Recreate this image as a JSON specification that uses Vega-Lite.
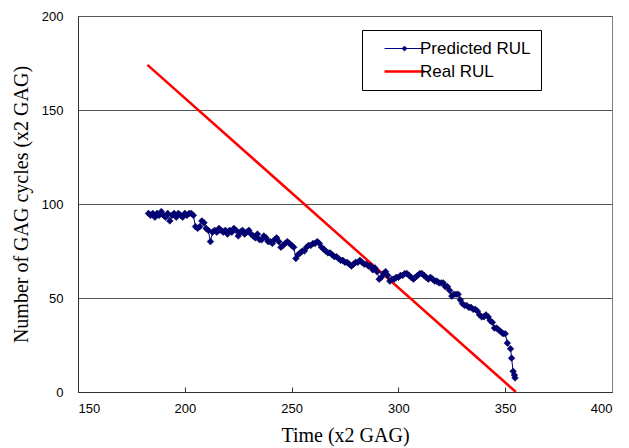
{
  "$schema": "https://vega.github.io/schema/vega-lite/v6.json",
  "autosize": {"type": "none"},
  "padding": {"left": 78, "top": 16, "right": 17, "bottom": 56},
  "width": 534,
  "height": 376,
  "background": "white",
  "config": {
    "view": {"stroke": "#808080", "strokeWidth": 1},
    "axis": {"labelFont": "Liberation Sans", "labelFontSize": 13, "labelColor": "black", "titleFont": "Liberation Serif", "titleFontSize": 20, "titleFontWeight": "normal", "titleColor": "black"}
  },
  "resolve": {"axis": {"x": "independent"}},
  "data": {"values": [
    {"t":182.5,"v":174,"s":"Real RUL"},{"t":355,"v":0,"s":"Real RUL"},
    {"t":183,"v":95,"s":"Predicted RUL"},{"t":184,"v":94,"s":"Predicted RUL"},{"t":185,"v":95,"s":"Predicted RUL"},{"t":186,"v":93,"s":"Predicted RUL"},{"t":187,"v":95,"s":"Predicted RUL"},{"t":188,"v":94,"s":"Predicted RUL"},{"t":189,"v":96,"s":"Predicted RUL"},{"t":190,"v":94,"s":"Predicted RUL"},{"t":191,"v":93,"s":"Predicted RUL"},{"t":192,"v":95,"s":"Predicted RUL"},{"t":193,"v":91,"s":"Predicted RUL"},{"t":194,"v":94,"s":"Predicted RUL"},{"t":195,"v":95,"s":"Predicted RUL"},{"t":196,"v":93,"s":"Predicted RUL"},{"t":197,"v":95,"s":"Predicted RUL"},{"t":198,"v":94,"s":"Predicted RUL"},{"t":199,"v":93,"s":"Predicted RUL"},{"t":200,"v":95,"s":"Predicted RUL"},{"t":201,"v":94,"s":"Predicted RUL"},{"t":202,"v":95,"s":"Predicted RUL"},{"t":203,"v":95,"s":"Predicted RUL"},{"t":204,"v":94,"s":"Predicted RUL"},{"t":205,"v":88,"s":"Predicted RUL"},{"t":206,"v":87,"s":"Predicted RUL"},{"t":207,"v":88,"s":"Predicted RUL"},{"t":208,"v":91,"s":"Predicted RUL"},{"t":209,"v":90,"s":"Predicted RUL"},{"t":210,"v":87,"s":"Predicted RUL"},{"t":211,"v":86,"s":"Predicted RUL"},{"t":212,"v":80,"s":"Predicted RUL"},{"t":213,"v":85,"s":"Predicted RUL"},{"t":214,"v":86,"s":"Predicted RUL"},{"t":215,"v":85,"s":"Predicted RUL"},{"t":216,"v":87,"s":"Predicted RUL"},{"t":217,"v":86,"s":"Predicted RUL"},{"t":218,"v":85,"s":"Predicted RUL"},{"t":219,"v":86,"s":"Predicted RUL"},{"t":220,"v":84,"s":"Predicted RUL"},{"t":221,"v":86,"s":"Predicted RUL"},{"t":222,"v":85,"s":"Predicted RUL"},{"t":223,"v":87,"s":"Predicted RUL"},{"t":224,"v":86,"s":"Predicted RUL"},{"t":225,"v":83,"s":"Predicted RUL"},{"t":226,"v":85,"s":"Predicted RUL"},{"t":227,"v":86,"s":"Predicted RUL"},{"t":228,"v":84,"s":"Predicted RUL"},{"t":229,"v":85,"s":"Predicted RUL"},{"t":230,"v":86,"s":"Predicted RUL"},{"t":231,"v":84,"s":"Predicted RUL"},{"t":232,"v":83,"s":"Predicted RUL"},{"t":233,"v":82,"s":"Predicted RUL"},{"t":234,"v":84,"s":"Predicted RUL"},{"t":235,"v":81,"s":"Predicted RUL"},{"t":236,"v":81,"s":"Predicted RUL"},{"t":237,"v":83,"s":"Predicted RUL"},{"t":238,"v":82,"s":"Predicted RUL"},{"t":239,"v":80,"s":"Predicted RUL"},{"t":240,"v":80,"s":"Predicted RUL"},{"t":241,"v":79,"s":"Predicted RUL"},{"t":242,"v":81,"s":"Predicted RUL"},{"t":243,"v":82,"s":"Predicted RUL"},{"t":244,"v":80,"s":"Predicted RUL"},{"t":245,"v":77,"s":"Predicted RUL"},{"t":246,"v":78,"s":"Predicted RUL"},{"t":247,"v":79,"s":"Predicted RUL"},{"t":248,"v":80,"s":"Predicted RUL"},{"t":249,"v":79,"s":"Predicted RUL"},{"t":250,"v":78,"s":"Predicted RUL"},{"t":251,"v":77,"s":"Predicted RUL"},{"t":252,"v":71,"s":"Predicted RUL"},{"t":253,"v":73,"s":"Predicted RUL"},{"t":254,"v":74,"s":"Predicted RUL"},{"t":255,"v":75,"s":"Predicted RUL"},{"t":256,"v":75,"s":"Predicted RUL"},{"t":257,"v":77,"s":"Predicted RUL"},{"t":258,"v":78,"s":"Predicted RUL"},{"t":259,"v":78,"s":"Predicted RUL"},{"t":260,"v":79,"s":"Predicted RUL"},{"t":261,"v":79,"s":"Predicted RUL"},{"t":262,"v":80,"s":"Predicted RUL"},{"t":263,"v":79,"s":"Predicted RUL"},{"t":264,"v":77,"s":"Predicted RUL"},{"t":265,"v":76,"s":"Predicted RUL"},{"t":266,"v":75,"s":"Predicted RUL"},{"t":267,"v":74,"s":"Predicted RUL"},{"t":268,"v":74,"s":"Predicted RUL"},{"t":269,"v":73,"s":"Predicted RUL"},{"t":270,"v":72,"s":"Predicted RUL"},{"t":271,"v":72,"s":"Predicted RUL"},{"t":272,"v":71,"s":"Predicted RUL"},{"t":273,"v":70,"s":"Predicted RUL"},{"t":274,"v":70,"s":"Predicted RUL"},{"t":275,"v":69,"s":"Predicted RUL"},{"t":276,"v":69,"s":"Predicted RUL"},{"t":277,"v":68,"s":"Predicted RUL"},{"t":278,"v":67,"s":"Predicted RUL"},{"t":279,"v":68,"s":"Predicted RUL"},{"t":280,"v":69,"s":"Predicted RUL"},{"t":281,"v":69,"s":"Predicted RUL"},{"t":282,"v":70,"s":"Predicted RUL"},{"t":283,"v":69,"s":"Predicted RUL"},{"t":284,"v":68,"s":"Predicted RUL"},{"t":285,"v":68,"s":"Predicted RUL"},{"t":286,"v":67,"s":"Predicted RUL"},{"t":287,"v":67,"s":"Predicted RUL"},{"t":288,"v":65,"s":"Predicted RUL"},{"t":289,"v":66,"s":"Predicted RUL"},{"t":290,"v":64,"s":"Predicted RUL"},{"t":291,"v":60,"s":"Predicted RUL"},{"t":292,"v":61,"s":"Predicted RUL"},{"t":293,"v":63,"s":"Predicted RUL"},{"t":294,"v":64,"s":"Predicted RUL"},{"t":295,"v":62,"s":"Predicted RUL"},{"t":296,"v":59,"s":"Predicted RUL"},{"t":297,"v":60,"s":"Predicted RUL"},{"t":298,"v":60,"s":"Predicted RUL"},{"t":299,"v":61,"s":"Predicted RUL"},{"t":300,"v":61,"s":"Predicted RUL"},{"t":301,"v":62,"s":"Predicted RUL"},{"t":302,"v":62,"s":"Predicted RUL"},{"t":303,"v":63,"s":"Predicted RUL"},{"t":304,"v":63,"s":"Predicted RUL"},{"t":305,"v":62,"s":"Predicted RUL"},{"t":306,"v":61,"s":"Predicted RUL"},{"t":307,"v":60,"s":"Predicted RUL"},{"t":308,"v":61,"s":"Predicted RUL"},{"t":309,"v":62,"s":"Predicted RUL"},{"t":310,"v":63,"s":"Predicted RUL"},{"t":311,"v":63,"s":"Predicted RUL"},{"t":312,"v":62,"s":"Predicted RUL"},{"t":313,"v":61,"s":"Predicted RUL"},{"t":314,"v":60,"s":"Predicted RUL"},{"t":315,"v":61,"s":"Predicted RUL"},{"t":316,"v":60,"s":"Predicted RUL"},{"t":317,"v":59,"s":"Predicted RUL"},{"t":318,"v":59,"s":"Predicted RUL"},{"t":319,"v":58,"s":"Predicted RUL"},{"t":320,"v":58,"s":"Predicted RUL"},{"t":321,"v":58,"s":"Predicted RUL"},{"t":322,"v":56,"s":"Predicted RUL"},{"t":323,"v":56,"s":"Predicted RUL"},{"t":324,"v":54,"s":"Predicted RUL"},{"t":325,"v":51,"s":"Predicted RUL"},{"t":326,"v":52,"s":"Predicted RUL"},{"t":327,"v":52,"s":"Predicted RUL"},{"t":328,"v":52,"s":"Predicted RUL"},{"t":329,"v":49,"s":"Predicted RUL"},{"t":330,"v":47,"s":"Predicted RUL"},{"t":331,"v":46,"s":"Predicted RUL"},{"t":332,"v":46,"s":"Predicted RUL"},{"t":333,"v":45,"s":"Predicted RUL"},{"t":334,"v":45,"s":"Predicted RUL"},{"t":335,"v":44,"s":"Predicted RUL"},{"t":336,"v":44,"s":"Predicted RUL"},{"t":337,"v":43,"s":"Predicted RUL"},{"t":338,"v":41,"s":"Predicted RUL"},{"t":339,"v":40,"s":"Predicted RUL"},{"t":340,"v":40,"s":"Predicted RUL"},{"t":341,"v":41,"s":"Predicted RUL"},{"t":342,"v":40,"s":"Predicted RUL"},{"t":343,"v":38,"s":"Predicted RUL"},{"t":344,"v":37,"s":"Predicted RUL"},{"t":345,"v":34,"s":"Predicted RUL"},{"t":346,"v":34,"s":"Predicted RUL"},{"t":347,"v":33,"s":"Predicted RUL"},{"t":348,"v":32,"s":"Predicted RUL"},{"t":349,"v":31,"s":"Predicted RUL"},{"t":350,"v":31,"s":"Predicted RUL"},{"t":351,"v":26,"s":"Predicted RUL"},{"t":352.5,"v":23,"s":"Predicted RUL"},{"t":353,"v":18,"s":"Predicted RUL"},{"t":353.7,"v":11,"s":"Predicted RUL"},{"t":354.3,"v":9,"s":"Predicted RUL"},{"t":354.6,"v":7.5,"s":"Predicted RUL"}
  ]},
  "layer": [
    {"transform": [{"filter": "datum.s === 'Real RUL'"}],
     "mark": {"type": "line", "strokeWidth": 2.5},
     "encoding": {
      "x": {"field": "t", "type": "quantitative", "title": "Time (x2 GAG)",
        "scale": {"domain": [150, 400], "nice": false, "zero": false},
        "axis": {"orient": "bottom", "values": [150, 200, 250, 300, 350, 400], "grid": false, "domainColor": "#303030", "ticks": false, "labelPadding": 10, "titlePadding": 10}},
      "y": {"field": "v", "type": "quantitative", "title": "Number of GAG cycles (x2 GAG)",
        "scale": {"domain": [0, 200], "nice": false},
        "axis": {"values": [0, 50, 100, 150, 200], "ticks": false, "grid": true, "gridColor": "#555555", "gridWidth": 1, "domainColor": "#303030", "labelPadding": 15, "titlePadding": 10}},
      "color": {"field": "s", "type": "nominal",
        "scale": {"domain": ["Predicted RUL", "Real RUL"], "range": ["#000080", "#ff0000"]},
        "legend": {"orient": "none", "legendX": 284, "legendY": 14, "title": null,
          "strokeColor": "black", "fillColor": "white", "padding": 10,
          "labelFont": "Liberation Sans", "labelFontSize": 17, "labelColor": "black", "labelOffset": 7, "symbolOffset": 24,
          "symbolSize": 1600, "rowPadding": 5,
          "encode": {"symbols": {"update": {
            "shape": {"signal": "datum.value === 'Real RUL' ? 'M-1,0H1' : 'M-1,0H1M0,-0.12L0.12,0L0,0.12L-0.12,0Z'"},
            "strokeWidth": {"signal": "datum.value === 'Real RUL' ? 2.5 : 1"},
            "fill": {"signal": "datum.value === 'Real RUL' ? 'transparent' : '#000080'"},
            "stroke": {"signal": "datum.value === 'Real RUL' ? '#ff0000' : '#000040'"},
            "opacity": {"value": 1}}}}}}}
    },
    {"transform": [{"filter": "datum.s === 'Predicted RUL'"}],
     "mark": {"type": "line", "strokeWidth": 1, "color": "#000040"},
     "encoding": {
      "x": {"field": "t", "type": "quantitative",
        "axis": {"orient": "bottom", "values": [200, 250, 300, 350], "offset": -5, "tickSize": 5, "tickColor": "#303030", "labels": false, "domain": false, "grid": false, "title": null}},
      "y": {"field": "v", "type": "quantitative"},
      "color": {"field": "s", "type": "nominal"}}
    },
    {"transform": [{"filter": "datum.s === 'Predicted RUL'"}],
     "mark": {"type": "point", "shape": "diamond", "filled": true, "size": 45, "fill": "#000080", "stroke": "#000030", "strokeWidth": 0.5, "opacity": 1},
     "encoding": {
      "x": {"field": "t", "type": "quantitative", "axis": null},
      "y": {"field": "v", "type": "quantitative"}}
    }
  ]
}
